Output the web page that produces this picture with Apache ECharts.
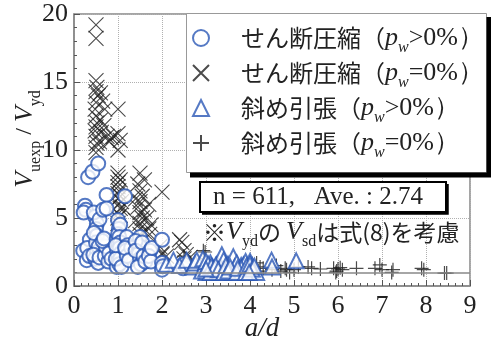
<!DOCTYPE html>
<html>
<head>
<meta charset="utf-8">
<script src="https://cdn.jsdelivr.net/npm/echarts@6/dist/echarts.min.js"></script>
<style>
  html, body { margin: 0; padding: 0; background: #fff; }
  #chart { width: 491px; height: 349px; }
</style>
</head>
<body>
<div id="chart"></div>
<script>
// せん断圧縮 (pw>0%) : [a/d, Vuexp/Vyd]
const shearCompPw = [
  [0.25, 5.9], [0.27, 5.6], [0.22, 5.4], [0.32, 8.0], [0.42, 8.4], [0.55, 9.0],
  [0.21, 2.6], [0.29, 1.9], [0.36, 3.4], [0.3, 2.8], [0.35, 2.2],
  [0.48, 5.1], [0.52, 4.6], [0.5, 4.2], [0.52, 3.7], [0.5, 3.2], [0.52, 2.5], [0.48, 2.0], [0.55, 1.7],
  [0.45, 5.4], [0.58, 4.9], [0.45, 3.9], [0.56, 2.9], [0.44, 2.3], [0.58, 2.1],
  [0.66, 5.6], [0.74, 6.7], [0.7, 2.2], [0.72, 2.9], [0.65, 3.3], [0.78, 1.8], [0.8, 2.4], [0.74, 5.7], [0.85, 2.0], [0.68, 3.5],
  [1.0, 4.85], [0.97, 3.4], [1.0, 3.0], [0.98, 2.6], [1.0, 2.2], [1.0, 1.8], [0.97, 1.4], [1.02, 4.2], [1.0, 3.8],
  [1.05, 4.5], [1.03, 3.6], [1.05, 3.2], [1.04, 2.8], [1.06, 2.4], [1.05, 2.0], [1.03, 1.6], [0.95, 2.0], [0.95, 3.0], [1.08, 1.4],
  [1.16, 6.6], [1.2, 3.6], [1.22, 3.0], [1.18, 2.6], [1.2, 2.2], [1.3, 2.8], [1.16, 2.8], [1.25, 1.9],
  [1.5, 3.6], [1.5, 2.9], [1.48, 2.4], [1.5, 2.0], [1.52, 1.6], [1.45, 1.4], [1.4, 3.3], [1.4, 2.6], [1.55, 3.2], [1.58, 2.2], [1.62, 1.8],
  [1.73, 2.6], [1.7, 2.2], [1.75, 1.8], [1.77, 2.8],
  [2.0, 3.4], [2.0, 1.7], [2.0, 1.2], [2.02, 1.45], [2.48, 1.3], [2.5, 1.6], [3.0, 1.3]
];
// せん断圧縮 (pw=0%)
const shearCompNo = [
  [0.5, 19.2], [0.5, 18.2], [0.5, 15.1], [0.52, 14.6], [0.5, 14.3], [0.55, 14.0], [0.5, 13.5],
  [0.48, 13.0], [0.5, 12.5], [0.52, 12.0], [0.5, 11.7], [0.48, 11.4], [0.5, 11.0], [0.52, 10.5], [0.5, 10.2], [0.5, 9.8],
  [0.6, 14.2], [0.65, 13.6], [0.7, 13.0], [0.6, 12.2], [0.68, 11.8], [0.62, 11.3], [0.75, 11.0], [0.58, 10.6],
  [0.8, 10.6], [0.85, 10.9], [0.9, 11.0],
  [1.0, 13.0], [1.0, 11.2], [1.05, 10.7], [1.0, 10.0], [1.0, 8.3], [1.0, 8.0], [1.0, 7.6], [1.0, 7.3],
  [1.02, 7.0], [1.0, 6.8], [1.0, 6.4], [1.0, 6.0], [1.05, 5.7], [1.0, 5.3], [1.0, 5.0], [1.0, 4.6],
  [1.05, 7.8], [1.05, 6.6], [1.08, 6.2], [1.05, 5.2], [1.1, 5.8],
  [1.5, 8.3], [1.45, 7.5], [1.5, 7.0], [1.55, 6.6], [1.5, 6.2], [1.45, 5.8], [1.5, 5.4], [1.55, 5.0],
  [1.5, 4.6], [1.5, 4.2], [1.5, 3.8], [1.45, 3.4], [1.6, 7.8], [1.6, 5.6], [1.4, 6.4], [1.4, 4.8], [1.6, 4.0],
  [1.7, 6.0], [1.65, 5.0], [1.7, 4.2], [1.75, 4.5], [1.72, 3.8],
  [2.0, 6.9], [1.95, 2.9], [2.0, 2.4], [2.1, 2.2], [2.0, 2.3],
  [2.45, 3.2], [2.5, 2.6], [2.55, 2.3], [2.5, 2.0], [2.4, 3.4], [2.64, 2.1]
];
// 斜め引張 (pw>0%)
const diagTensPw = [
  [2.1, 1.6], [2.26, 1.9], [2.4, 1.5], [2.56, 1.9], [2.7, 1.4], [2.75, 1.7], [2.79, 1.9], [2.95, 1.3], [3.0, 1.5],
  [3.05, 1.2], [3.1, 1.7], [3.15, 1.4], [3.2, 1.1], [3.25, 1.6], [3.36, 2.3], [3.35, 1.3], [3.4, 1.9],
  [3.45, 1.2], [3.5, 1.6], [3.55, 1.1], [3.62, 2.15], [3.65, 1.4], [3.7, 1.7], [3.75, 1.2], [3.8, 1.5],
  [3.85, 1.55], [3.9, 1.8], [3.95, 1.3], [4.0, 1.8], [4.0, 1.1], [4.05, 1.5], [4.1, 1.2], [4.15, 1.0],
  [4.49, 1.9], [4.5, 1.4], [5.05, 1.85], [3.0, 1.0], [3.3, 1.0], [3.6, 1.0], [2.9, 1.1], [3.1, 1.3],
  [3.5, 1.3], [3.8, 1.3], [4.0, 1.4], [2.93, 2.0], [3.0, 1.8], [3.05, 1.6], [3.1, 1.0], [3.12, 1.45],
  [3.2, 1.3], [3.22, 1.5], [3.28, 1.2], [3.4, 1.0], [3.45, 1.5], [3.5, 1.1], [3.55, 1.4], [3.7, 1.0],
  [3.72, 1.3], [3.9, 1.0], [3.92, 1.45], [4.0, 1.6], [4.05, 1.25], [4.1, 1.45], [3.98, 1.0], [3.0, 1.25]
];
// 斜め引張 (pw=0%)
const diagTensNo = [
  [2.5, 1.5], [2.5, 2.2], [2.52, 1.8], [2.94, 2.6], [2.98, 2.5], [2.95, 2.0], [3.0, 1.7], [3.0, 1.2], [3.2, 1.4],
  [3.4, 1.1], [3.5, 1.5], [3.7, 1.2], [3.9, 1.3], [4.15, 1.7], [4.23, 1.4], [4.2, 1.1], [4.3, 1.3], [4.5, 1.2],
  [4.6, 1.5], [4.7, 1.1], [4.8, 1.3], [4.83, 1.2], [4.9, 1.0], [5.0, 1.2], [5.1, 1.4], [5.32, 1.4], [5.4, 1.3],
  [5.6, 1.25], [5.9, 1.3], [5.97, 1.1], [6.05, 1.35], [6.1, 1.2], [5.95, 1.0], [6.0, 1.25], [6.42, 1.3], [6.84, 1.3],
  [6.95, 1.55], [7.0, 1.2], [7.22, 1.0], [7.25, 1.2], [7.9, 1.3], [7.95, 1.2], [8.42, 0.95], [8.47, 0.95]
];
const legendNames = ['せん断圧縮（pw>0%）', 'せん断圧縮（pw=0%）', '斜め引張（pw>0%）', '斜め引張（pw=0%）'];
const xTicks = [0, 1, 2, 3, 4, 5, 6, 7, 8, 9];
const yTicks = [0, 5, 10, 15, 20];

const blue = '#2a58b5';
const black = '#1e1e1e';
const crossPath = 'path://M0,0L10,10M10,0L0,10';
const plusPath = 'path://M5,0L5,10M0,5L10,5';
const serif = 'Liberation Serif';
const cjk = 'Noto Sans CJK JP';

const chart = echarts.init(document.getElementById('chart'));

const legendRich = {
  t: { fontFamily: cjk, fontSize: 24, color: '#222', lineHeight: 28 },
  p: { fontFamily: serif, fontStyle: 'italic', fontSize: 26, color: '#222', lineHeight: 28 },
  w: { fontFamily: serif, fontStyle: 'italic', fontSize: 16, color: '#222', lineHeight: 28, verticalAlign: 'bottom', padding: [0, 0, -4, 0] },
  r: { fontFamily: serif, fontSize: 26, color: '#222', lineHeight: 28 }
};

function legendLabel(name) {
  const m = name.match(/^(.*)（pw(.*)）$/);
  return '{t|' + m[1] + '（}{p|p}{w|w}{r|' + m[2] + '）}';
}

const tickRich = { n: { fontFamily: serif, fontSize: 26, color: '#222' } };

chart.setOption({
  animation: false,
  backgroundColor: '#fff',
  textStyle: { fontFamily: serif },
  grid: {
    left: 74, right: 21, top: 14, bottom: 63,
    show: true, borderColor: '#888', borderWidth: 1.5, backgroundColor: 'transparent'
  },
  legend: {
    data: legendNames,
    orient: 'vertical',
    left: 186, top: 13, z: 30,
    padding: [12, 10, 4, 6],
    itemGap: 4,
    itemWidth: 16, itemHeight: 16,
    formatter: legendLabel,
    textStyle: { rich: legendRich, padding: [0, 0, 0, 27] }
  },
  xAxis: {
    type: 'value', min: 0, max: 9, interval: 1,
    axisLine: { lineStyle: { color: '#888', width: 1.5 } },
    axisTick: { inside: true, length: 6, lineStyle: { color: '#555' } },
    minorTick: { show: true, splitNumber: 6, length: 3, lineStyle: { color: '#555' } },
    axisLabel: {
      margin: 7, rich: tickRich,
      formatter: v => xTicks.includes(v) ? '{n|' + v + '}' : ''
    },
    splitLine: { show: true, lineStyle: { color: '#b0b0b0', type: 'dotted' } }
  },
  yAxis: {
    type: 'value', min: 0, max: 20, interval: 5,
    axisLine: { lineStyle: { color: '#888', width: 1.5 } },
    axisTick: { inside: true, length: 6, lineStyle: { color: '#555' } },
    minorTick: { show: true, splitNumber: 5, length: 3, lineStyle: { color: '#555' } },
    axisLabel: {
      margin: 6, rich: tickRich,
      formatter: v => yTicks.includes(v) ? '{n|' + v + '}' : ''
    },
    splitLine: { show: true, lineStyle: { color: '#b0b0b0', type: 'dotted' } }
  },
  series: [
    {
      name: legendNames[0], type: 'scatter', data: shearCompPw,
      symbol: 'emptyCircle', symbolSize: 14,
      itemStyle: { color: blue, borderColor: blue, borderWidth: 1.1 },
      markLine: {
        silent: true, symbol: 'none', label: { show: false },
        lineStyle: { color: '#888', type: 'solid', width: 1.5 },
        data: [{ yAxis: 1 }]
      },
      z: 3
    },
    {
      name: legendNames[1], type: 'scatter', data: shearCompNo,
      symbol: crossPath, symbolSize: 15,
      itemStyle: { color: 'transparent', borderColor: black, borderWidth: 1.1 },
      z: 2
    },
    {
      name: legendNames[2], type: 'scatter', data: diagTensPw,
      symbol: 'emptyTriangle', symbolSize: 15,
      itemStyle: { color: blue, borderColor: blue, borderWidth: 1.1 },
      z: 4
    },
    {
      name: legendNames[3], type: 'scatter', data: diagTensNo,
      symbol: plusPath, symbolSize: 14,
      itemStyle: { color: 'transparent', borderColor: black, borderWidth: 1.2 },
      z: 2
    }
  ],
  graphic: [
    {
      type: 'text', x: 25, y: 139, rotation: Math.PI / 2,
      style: {
        text: '{v|V}{s|uexp}{m| / }{v|V}{s|yd}',
        align: 'center', verticalAlign: 'middle',
        rich: {
          v: { fontFamily: serif, fontStyle: 'italic', fontSize: 26, fill: '#222', lineHeight: 30 },
          s: { fontFamily: serif, fontSize: 16, fill: '#222', lineHeight: 30, verticalAlign: 'bottom', padding: [0, 0, -4, 0] },
          m: { fontFamily: serif, fontSize: 24, fill: '#222', lineHeight: 30 }
        }
      }
    },
    {
      type: 'text', x: 262, y: 329,
      style: {
        text: 'a/d', fill: '#222',
        font: 'italic 27px ' + serif, align: 'center', verticalAlign: 'middle'
      }
    },
    // legend panel
    { type: 'rect', id: 'lgPanel', z: 21, silent: true, shape: { x: 186.5, y: 13.5, width: 300, height: 159 }, style: { fill: '#fff', stroke: '#999', lineWidth: 1 } },
    // solid shadows drawn as thick strokes along the bottom and right edges
    {
      type: 'polyline', id: 'lgShadow', z: 60, silent: true,
      shape: { points: [[190, 175], [489, 175], [489, 17]] },
      style: { stroke: '#000', lineWidth: 5, fill: null }
    },
    { type: 'rect', z: 51, silent: true, shape: { x: 200, y: 182, width: 246, height: 30 }, style: { fill: '#fff', stroke: '#000', lineWidth: 2 } },
    {
      type: 'polyline', id: 'boxShadow', z: 60, silent: true,
      shape: { points: [[202, 213.5], [447.5, 213.5], [447.5, 184]] },
      style: { stroke: '#000', lineWidth: 2.5, fill: null }
    },
    {
      type: 'text', z: 52, x: 318, y: 197,
      style: {
        text: 'n = 611,   Ave. : 2.74', fill: '#222',
        font: '25px ' + serif, align: 'center', verticalAlign: 'middle'
      }
    },
    {
      type: 'text', z: 52, x: 203, y: 232,
      style: {
        text: '{k|※}{v|V}{s|yd}{k|の }{v|V}{s|sd}{k|は式(8)を考慮}',
        verticalAlign: 'middle', align: 'left',
        rich: {
          k: { fontFamily: cjk, fontSize: 23, fill: '#222', lineHeight: 28 },
          v: { fontFamily: serif, fontStyle: 'italic', fontSize: 26, fill: '#222', lineHeight: 28 },
          s: { fontFamily: serif, fontSize: 16, fill: '#222', lineHeight: 28, verticalAlign: 'bottom', padding: [0, 0, -4, 0] }
        }
      }
    }
  ]
});
</script>
</body>
</html>
